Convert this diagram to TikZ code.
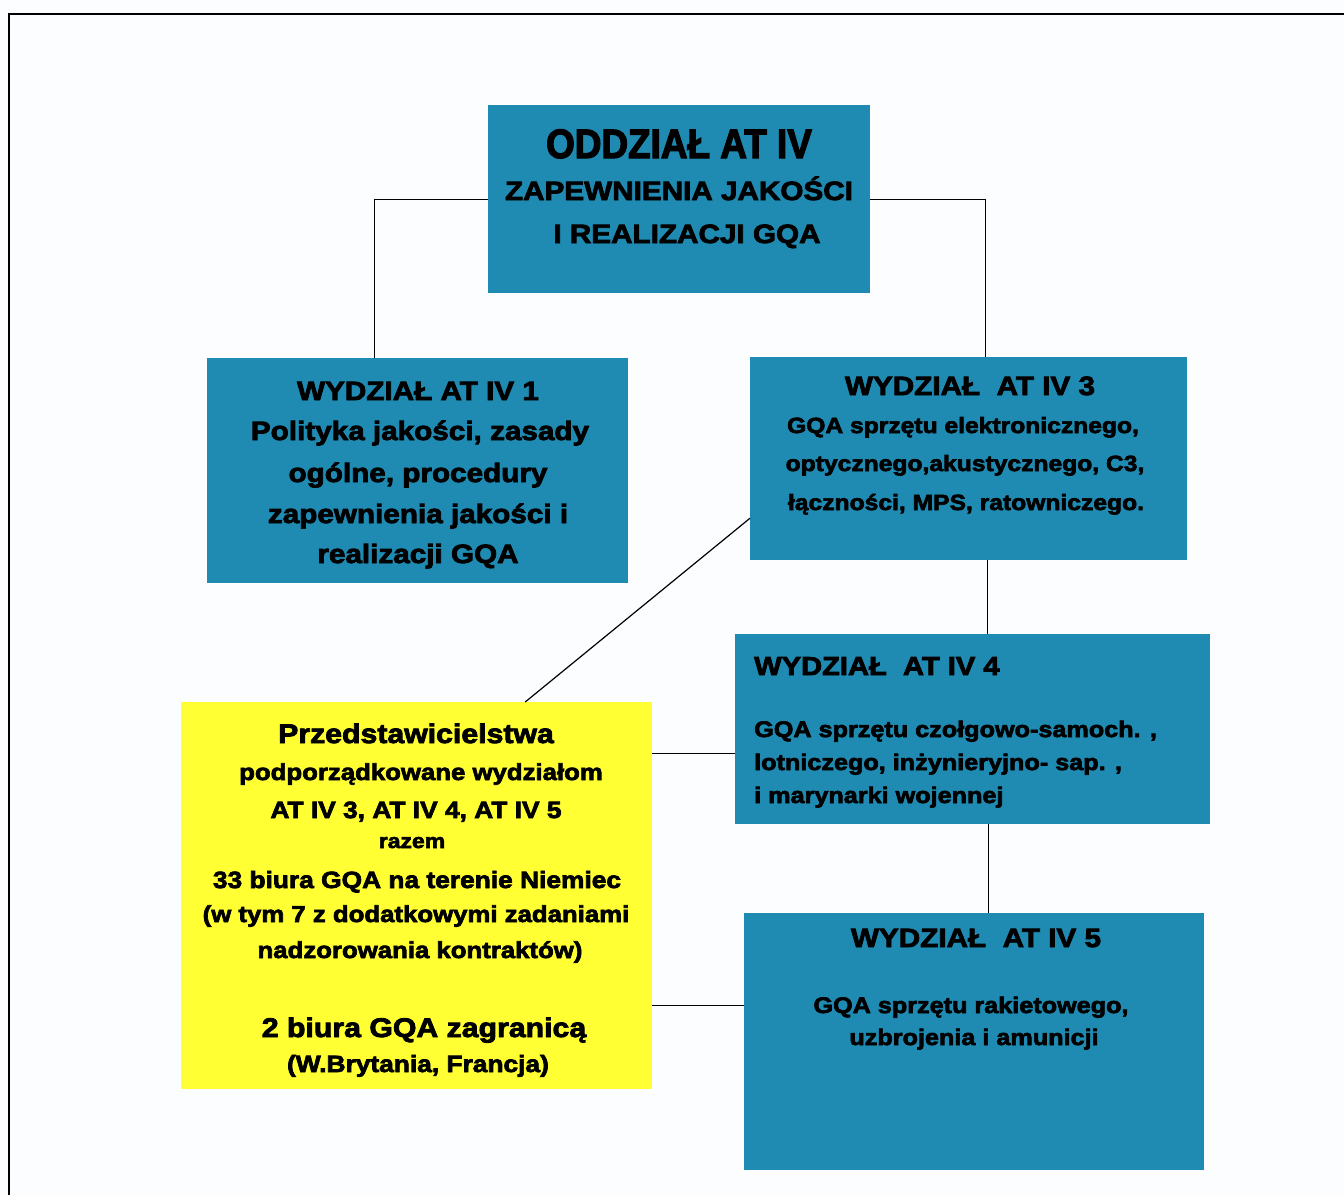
\documentclass[tikz,border=0pt]{standalone}
\usepackage{fontspec}
\setmainfont{Liberation Sans}[FakeStretch=1.12, BoldFeatures={FakeBold=3}]
\newfontfamily\headfont{Liberation Sans}[FakeStretch=0.9, BoldFeatures={FakeBold=3}]
\usetikzlibrary{calc}
\definecolor{boxblue}{RGB}{31,139,178}
\definecolor{boxyellow}{RGB}{255,255,51}
\definecolor{paper}{RGB}{251,253,254}

\begin{document}
\begin{tikzpicture}[x=1pt,y=-1pt,
  bluebox/.style={fill=boxblue, draw=none, inner sep=0pt, anchor=north west},
  yellowbox/.style={fill=boxyellow, draw=none, inner sep=0pt, anchor=north west},
  link/.style={black, line width=1.2pt},
  txt/.style={anchor=base, inner sep=0pt, text=black},
  sz/.style={font=\bfseries\fontsize{#1}{#1}\selectfont},
  lefttxt/.style={txt, anchor=base west}
]
% sheet and frame
\fill[paper] (0,0) rectangle (1344,1195);
\useasboundingbox (0,0) rectangle (1344,1195);
\draw[line width=2pt] (9,1195) -- (9,14) -- (1344,14);

% boxes
\node[bluebox, minimum width=382pt, minimum height=188pt] (top) at (488,105) {};
\node[bluebox, minimum width=421pt, minimum height=225pt] (w1) at (207,358) {};
\node[bluebox, minimum width=437pt, minimum height=203pt] (w3) at (750,357) {};
\node[bluebox, minimum width=475pt, minimum height=190pt] (w4) at (735,634) {};
\node[bluebox, minimum width=460pt, minimum height=257pt] (w5) at (744,913) {};
\node[yellowbox, minimum width=471pt, minimum height=387pt] (yel) at (181,702) {};

% attachment points on the box edges
\coordinate (w1in)  at ($(w1.north)+(-43.5,0)$);
\coordinate (w3in)  at ($(w3.north)+(16.5,0)$);
\coordinate (w3out) at ($(w3.south)+(18.5,0)$);
\coordinate (w4out) at ($(w4.south)+(16,0)$);
\coordinate (w3side) at ($(w3.west)+(0,59.5)$);
\coordinate (yeltop) at ($(yel.north)+(108.5,0)$);
\coordinate (yel4) at ($(yel.east)+(0,-142.5)$);
\coordinate (yel5) at ($(yel.east)+(0,109.5)$);

% connectors
\draw[link] (top.west) -| (w1in);
\draw[link] (top.east) -| (w3in);
\draw[link] (w3out) -- (w3out |- w4.north);
\draw[link] (w4out) -- (w4out |- w5.north);
\draw[link] (w3side) -- (yeltop);
\draw[link] (yel4) -- (yel4 -| w4.west);
\draw[link] (yel5) -- (yel5 -| w5.west);

% headquarters
\node[txt, font=\headfont\bfseries\fontsize{41}{41}\selectfont] (t1) at (679,158) {ODDZIAŁ AT IV};
\node[txt, sz=26.5] (t2) at (679,200) {ZAPEWNIENIA JAKOŚCI};
\node[txt, sz=26.5] (t3) at (687,243) {I REALIZACJI GQA};

% branch 1
\node[txt, sz=26.5] (w1a) at (418,400) {WYDZIAŁ AT IV 1};
\node[txt, sz=26.5] (w1b) at (420,440) {Polityka jakości, zasady};
\node[txt, sz=26.5] (w1c) at (418,482) {ogólne, procedury};
\node[txt, sz=26.5] (w1d) at (418,523) {zapewnienia jakości i};
\node[txt, sz=26.5] (w1e) at (418,563) {realizacji GQA};

% branch 3
\node[txt, sz=26.5] (w3a) at (970,395) {WYDZIAŁ~ AT IV 3};
\node[txt, sz=22] (w3b) at (963,433) {GQA sprzętu elektronicznego,};
\node[txt, sz=22] (w3c) at (965,471) {optycznego,akustycznego, C3,};
\node[txt, sz=22] (w3d) at (966,510) {łączności, MPS, ratowniczego.};

% branch 4
\node[lefttxt, sz=26] (w4a) at (754,675) {WYDZIAŁ~ AT IV 4};
\node[lefttxt, sz=22.5] (w4b) at (754,737) {GQA sprzętu czołgowo-samoch. ,};
\node[lefttxt, sz=22.5] (w4c) at (754,770) {lotniczego, inżynieryjno- sap. ,};
\node[lefttxt, sz=22.5] (w4d) at (754,803) {i marynarki wojennej};

% branch 5
\node[txt, sz=26.5] (w5a) at (976,947) {WYDZIAŁ~ AT IV 5};
\node[txt, sz=22.5] (w5b) at (971,1013) {GQA sprzętu rakietowego,};
\node[txt, sz=22.5] (w5c) at (974,1045) {uzbrojenia i amunicji};

% field offices
\node[txt, sz=27] (y1) at (416,743) {Przedstawicielstwa};
\node[txt, sz=23] (y2) at (421,780) {podporządkowane wydziałom};
\node[txt, sz=23.5] (y3) at (416,818) {AT IV 3, AT IV 4, AT IV 5};
\node[txt, sz=20.5] (y4) at (412,848) {razem};
\node[txt, sz=23.5] (y5) at (417,888) {33 biura GQA na terenie Niemiec};
\node[txt, sz=23] (y6) at (416,922) {(w tym 7 z dodatkowymi zadaniami};
\node[txt, sz=23] (y7) at (420,958) {nadzorowania kontraktów)};
\node[txt, sz=27] (y8) at (424,1037) {2 biura GQA zagranicą};
\node[txt, sz=23.5] (y9) at (418,1072) {(W.Brytania, Francja)};
\end{tikzpicture}
\end{document}
